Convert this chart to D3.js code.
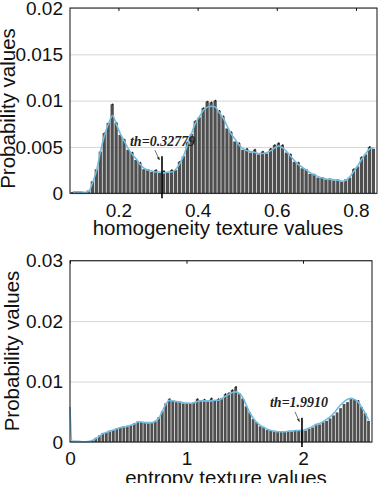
<!DOCTYPE html>
<html>
<head>
<meta charset="utf-8">
<script src="https://cdn.jsdelivr.net/npm/d3@7"></script>
<style>
  body { margin: 0; background: #fff; }
  svg { display: block; font-family: "Liberation Sans", Arial, sans-serif; }
</style>
</head>
<body>
<svg id="chart" width="381" height="483"></svg>
<script>
// values are in thousandths (x 0.001)
const unit = 0.001;

// homogeneity histogram: bins of 0.01 starting at 0.08
const homBinStart = 0.08;
const homBinWidth = 0.01;
const homBars = [
  0.15, 0.15, 0.15, 0.1, 0.3, 1.3, 2.6, 4.5, 6.5, 7.6,
  9.6, 7.6, 6.3, 5.8, 4.7, 4.4, 3.6, 3.3, 2.6, 2.6,
  2.3, 2.5, 2.2, 2.4, 2.2, 2.5, 2.5, 3.4, 4.0, 5.5,
  6.4, 7.8, 8.2, 9.2, 9.9, 9.8, 10.0, 8.9, 8.3, 7.0,
  6.6, 5.6, 5.4, 4.7, 4.8, 4.4, 4.7, 4.2, 4.5, 4.3,
  4.8, 5.2, 5.4, 5.2, 4.4, 4.2, 3.4, 3.3, 2.7, 2.6,
  2.1, 2.1, 1.7, 1.75, 1.5, 1.6, 1.4, 1.5, 1.25, 1.5,
  1.7, 2.6, 2.9, 3.9, 4.2, 5.0, 4.8
];
const homCurve = [
  0.15, 0.15, 0.15, 0.1, 0.2, 1.2, 2.5, 4.6, 6.3, 7.5,
  8.4, 7.4, 6.4, 5.6, 4.8, 4.2, 3.7, 3.1, 2.7, 2.5,
  2.4, 2.3, 2.3, 2.2, 2.3, 2.3, 2.6, 3.2, 4.1, 5.3,
  6.5, 7.6, 8.3, 9.0, 9.3, 9.4, 9.3, 8.7, 8.1, 7.2,
  6.4, 5.8, 5.2, 4.8, 4.6, 4.5, 4.4, 4.3, 4.3, 4.4,
  4.6, 4.9, 5.1, 4.9, 4.5, 4.0, 3.5, 3.1, 2.8, 2.5,
  2.2, 2.0, 1.8, 1.65, 1.55, 1.5, 1.45, 1.4, 1.3, 1.4,
  1.8, 2.4, 3.0, 3.7, 4.3, 4.8, 4.9
];
const homXTicks = [0.2, 0.4, 0.6, 0.8];
const homYTicks = [0, 0.005, 0.01, 0.015, 0.02];
const homThreshold = 0.31;
const homThLabel = "th=0.32779";

// entropy histogram: bins of 0.03 starting at 0
const entBinStart = 0;
const entBinWidth = 0.03;
const entBars = [
  0.1, 0.1, 0.1, 0.05, 0.05, 0.1, 0.3, 0.7, 1.1, 1.5,
  1.6, 1.9, 2.0, 2.3, 2.4, 2.6, 2.7, 2.8, 3.1, 3.4,
  3.3, 3.3, 3.1, 3.3, 3.4, 4.1, 5.1, 6.4, 7.1, 6.8,
  6.6, 6.7, 6.4, 6.5, 6.3, 6.6, 7.1, 6.9, 7.0, 6.7,
  7.2, 6.8, 7.1, 7.3, 7.9, 8.1, 8.6, 9.1, 8.1, 7.2,
  5.9, 4.9, 3.8, 3.3, 2.6, 2.5, 2.0, 1.9, 1.8, 1.75,
  1.65, 1.75, 1.8, 1.85, 1.9, 1.85, 2.0, 1.9, 2.2, 2.4,
  3.0, 2.9, 3.3, 3.5, 3.9, 4.4, 4.9, 5.6, 6.3, 6.6,
  7.3, 7.1, 6.8, 5.8, 4.8, 3.5
];
const entCurve = [
  0.1, 0.1, 0.1, 0.05, 0.05, 0.1, 0.3, 0.6, 1.0, 1.4,
  1.6, 1.8, 2.0, 2.2, 2.4, 2.5, 2.6, 2.8, 3.0, 3.3,
  3.3, 3.2, 3.2, 3.2, 3.5, 4.0, 5.2, 6.3, 6.9, 6.8,
  6.7, 6.6, 6.5, 6.4, 6.4, 6.5, 6.7, 6.8, 6.8, 6.8,
  6.8, 6.9, 6.9, 7.2, 7.6, 7.9, 8.2, 8.3, 8.0, 7.3,
  6.0, 4.8, 3.9, 3.2, 2.7, 2.4, 2.1, 1.9, 1.8, 1.7,
  1.7, 1.7, 1.8, 1.8, 1.9, 1.9, 1.9, 2.1, 2.3, 2.6,
  2.9, 3.1, 3.4, 3.8, 4.2, 4.8, 5.5, 6.2, 6.7, 7.1,
  7.2, 7.0, 6.6, 5.7, 4.7, 3.6
];
const entCurveEdge = 5.8; // curve value at x = 0
const entXTicks = [0, 1, 2];
const entYTicks = [0, 0.01, 0.02, 0.03];
const entThreshold = 1.991;
const entThLabel = "th=1.9910";

const svg = d3.select('#chart');

svg.append('defs').append('marker')
    .attr('id', 'arrow')
    .attr('viewBox', '0 0 10 10')
    .attr('refX', 9).attr('refY', 5)
    .attr('markerWidth', 5).attr('markerHeight', 5)
    .attr('orient', 'auto')
  .append('path')
    .attr('d', 'M0,1 L10,5 L0,9 z')
    .attr('fill', '#333');

function drawPanel(cfg) {
  const x = d3.scaleLinear().domain(cfg.xDomain).range([cfg.left, cfg.right]);
  const y = d3.scaleLinear().domain(cfg.yDomain).range([cfg.bottom, cfg.top]);
  const w = cfg.right - cfg.left;
  const g = svg.append('g');

  // grid
  g.append('g')
      .attr('transform', 'translate(' + cfg.left + ',0)')
      .call(d3.axisLeft(y).tickValues(cfg.yTicks).tickSize(-w).tickFormat(''))
      .call(a => a.select('.domain').remove())
      .selectAll('line').attr('stroke', '#d6d6d6');

  // bars
  const bars = cfg.bars.map((v, i) => ({
    x0: cfg.binStart + i * cfg.binWidth,
    x1: cfg.binStart + (i + 1) * cfg.binWidth,
    v: v
  }));
  g.selectAll('.bar')
    .data(bars)
    .enter().append('rect')
      .attr('class', 'bar')
      .attr('x', d => x(d.x0))
      .attr('y', d => y(d.v * unit))
      .attr('width', d => Math.max(0, x(d.x1) - x(d.x0) - 0.7))
      .attr('height', d => y(0) - y(d.v * unit))
      .attr('fill', '#4f4f4f');

  // dark dots where bars stick out over the fit
  g.selectAll('.dot')
    .data(bars.filter((d, i) => d.v - cfg.curve[i] > 0.15))
    .enter().append('circle')
      .attr('cx', d => (x(d.x0) + x(d.x1)) / 2)
      .attr('cy', d => y(d.v * unit))
      .attr('r', 0.9)
      .attr('fill', '#1e1e1e');

  // fitted curve
  let pts = cfg.curve.map((v, i) => [cfg.binStart + (i + 0.5) * cfg.binWidth, v]);
  if (cfg.edge != null) pts = [[cfg.binStart, cfg.edge]].concat(pts);
  g.append('path')
      .datum(pts)
      .attr('fill', 'none')
      .attr('stroke', '#72bddf')
      .attr('stroke-width', 1.6)
      .attr('d', d3.line().x(d => x(d[0])).y(d => y(d[1] * unit)).curve(d3.curveMonotoneX));

  // box
  g.append('rect')
      .attr('x', cfg.left).attr('y', cfg.top)
      .attr('width', w).attr('height', cfg.bottom - cfg.top)
      .attr('fill', 'none').attr('stroke', '#111').attr('stroke-width', 1);

  // top ticks
  g.append('g')
      .attr('transform', 'translate(0,' + cfg.top + ')')
      .call(d3.axisTop(x).tickValues(cfg.xTicks).tickSize(-3).tickFormat(''))
      .call(a => a.select('.domain').remove())
      .selectAll('line').attr('stroke', '#111');

  // axes
  g.append('g')
      .attr('transform', 'translate(' + cfg.left + ',0)')
      .call(d3.axisLeft(y).tickValues(cfg.yTicks).tickSize(0).tickPadding(7).tickFormat(d3.format('~g')))
      .call(a => a.select('.domain').remove())
      .selectAll('text')
        .attr('font-size', 19).attr('font-family', '"Liberation Sans", Arial, sans-serif')
        .attr('fill', '#111');

  g.append('g')
      .attr('transform', 'translate(0,' + cfg.bottom + ')')
      .call(d3.axisBottom(x).tickValues(cfg.xTicks).tickSize(0).tickPadding(10).tickFormat(d3.format('~g')))
      .call(a => a.select('.domain').remove())
      .selectAll('text')
        .attr('font-size', 19).attr('font-family', '"Liberation Sans", Arial, sans-serif')
        .attr('fill', '#111');

  // titles
  g.append('text')
      .attr('x', cfg.xTitlePos[0]).attr('y', cfg.xTitlePos[1])
      .attr('text-anchor', 'middle')
      .attr('font-size', 20.5).attr('fill', '#111')
      .text(cfg.xTitle);

  g.append('text')
      .attr('transform', 'translate(' + cfg.yTitlePos[0] + ',' + cfg.yTitlePos[1] + ') rotate(-90)')
      .attr('text-anchor', 'middle')
      .attr('font-size', 20.5).attr('fill', '#111')
      .text('Probability values');

  // threshold marker
  const tx = x(cfg.th);
  const ty = y(0.004);
  g.append('line')
      .attr('x1', tx).attr('x2', tx)
      .attr('y1', ty).attr('y2', y(0) + 5)
      .attr('stroke', '#000').attr('stroke-width', 1.6);
  g.append('line')
      .attr('x1', tx - 7).attr('y1', ty - 6)
      .attr('x2', tx - 2.6).attr('y2', ty + 3.8)
      .attr('stroke', '#333').attr('stroke-width', 0.7)
      .attr('marker-end', 'url(#arrow)');
  g.append('text')
      .attr('x', tx - 32).attr('y', ty - 10.5)
      .attr('font-family', '"Liberation Serif", "Times New Roman", serif')
      .attr('font-style', 'italic').attr('font-weight', 'bold')
      .attr('font-size', 14).attr('fill', '#222')
      .text(cfg.thLabel);
}

drawPanel({
  left: 70, right: 377, top: 8, bottom: 193.3,
  xDomain: [0.0776, 0.8532], yDomain: [0, 0.02],
  binStart: homBinStart, binWidth: homBinWidth,
  bars: homBars, curve: homCurve, edge: null,
  xTicks: homXTicks, yTicks: homYTicks,
  th: homThreshold, thLabel: homThLabel,
  xTitle: 'homogeneity texture values', xTitlePos: [218, 235],
  yTitlePos: [15, 108.5]
});

drawPanel({
  left: 70, right: 372, top: 260.7, bottom: 442,
  xDomain: [0, 2.592], yDomain: [0, 0.03],
  binStart: entBinStart, binWidth: entBinWidth,
  bars: entBars, curve: entCurve, edge: entCurveEdge,
  xTicks: entXTicks, yTicks: entYTicks,
  th: entThreshold, thLabel: entThLabel,
  xTitle: 'entropy texture values', xTitlePos: [226, 484.5],
  yTitlePos: [19, 351]
});
</script>
</body>
</html>
